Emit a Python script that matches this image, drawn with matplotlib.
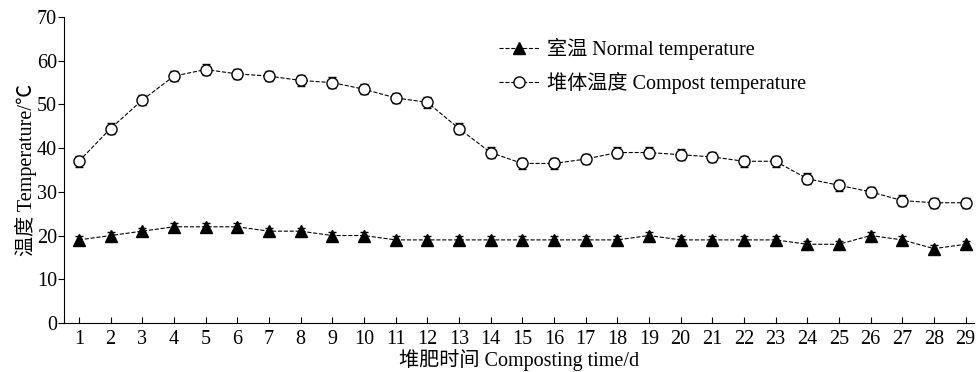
import matplotlib
matplotlib.use('Agg')
import matplotlib.pyplot as plt
from matplotlib.lines import Line2D
import numpy as np

plt.rcParams['font.family'] = ['Liberation Serif', 'Noto Sans CJK SC']

days = np.arange(1, 30)
normal = [19, 20, 21, 22, 22, 22, 21, 21, 20, 20, 19, 19, 19, 19, 19,
          19, 19, 19, 20, 19, 19, 19, 19, 18, 18, 20, 19, 17, 18]
normal_err = [0.8] * 29
compost = [37, 44.5, 51, 56.5, 58, 57, 56.5, 55.5, 55, 53.5, 51.5, 50.5, 44.5, 39, 36.5,
           36.5, 37.5, 39, 39, 38.5, 38, 37, 37, 33, 31.5, 30, 28, 27.5, 27.5]
compost_err = [1.2] * 29

fig = plt.figure(figsize=(9.79, 3.72), dpi=100)
ax = fig.add_axes([0.0654, 0.132, 0.93, 0.822])

ax.errorbar(days, normal, yerr=normal_err, color='black', marker='^', markersize=8,
            linestyle='--', linewidth=0.8, elinewidth=0.8, capsize=3)
ax.errorbar(days, compost, yerr=compost_err, color='black', marker='o', markersize=8,
            markerfacecolor='white', linestyle='--', linewidth=0.8, elinewidth=0.8, capsize=3)

handles = [
    Line2D([], [], color='black', marker='^', markersize=8, linestyle='--', linewidth=0.8),
    Line2D([], [], color='black', marker='o', markersize=8, markerfacecolor='white',
           linestyle='--', linewidth=0.8),
]
labels = ['室温 Normal temperature', '堆体温度 Compost temperature']

ax.set_xlim(0.53, 29.28)
ax.set_ylim(0, 70)
ax.set_xticks(days)
ax.set_yticks(range(0, 71, 10))
ax.spines['top'].set_visible(False)
ax.spines['right'].set_visible(False)
ax.tick_params(axis='x', direction='in', length=4, labelsize=14.5, pad=5)
ax.tick_params(axis='y', direction='out', length=4, labelsize=14.5, pad=1)

ax.set_xlabel('堆肥时间 Composting time/d', fontsize=14.5, labelpad=0)
ax.set_ylabel('温度 Temperature/℃', fontsize=14.5, labelpad=0)

ax.legend(handles, labels, loc='upper left', bbox_to_anchor=(0.458, 0.99), frameon=False,
          fontsize=14.5, handlelength=2.0, handletextpad=0.4, labelspacing=0.55)

fig.savefig('out.png', dpi=100)
